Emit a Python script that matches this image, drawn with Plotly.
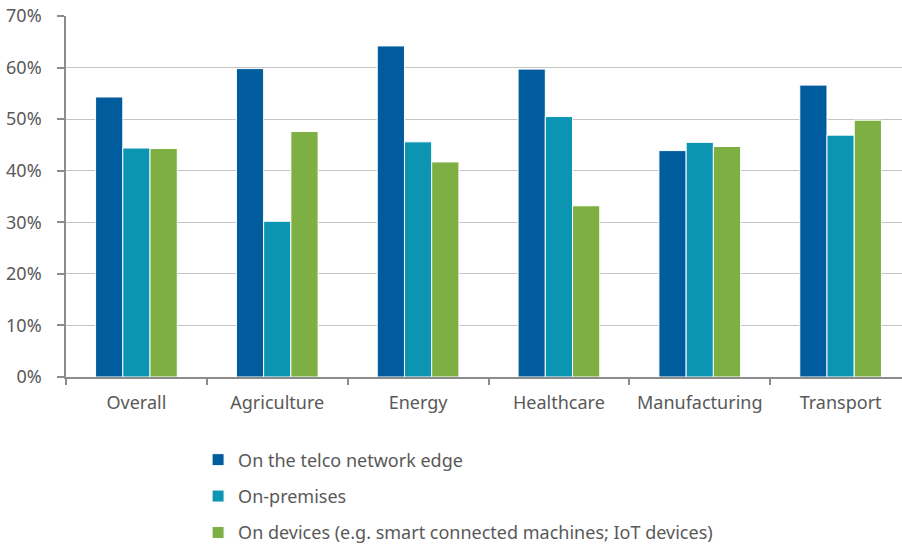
import plotly.graph_objects as go

categories = ["Overall", "Agriculture", "Energy", "Healthcare", "Manufacturing", "Transport"]
series_names = [
    "On the telco network edge",
    "On-premises",
    "On devices (e.g. smart connected machines; IoT devices)",
]
telco_edge = [0.543, 0.598, 0.642, 0.597, 0.439, 0.566]
on_premises = [0.444, 0.302, 0.456, 0.505, 0.455, 0.469]
on_devices = [0.443, 0.476, 0.417, 0.332, 0.447, 0.498]
colors = ["#005C9D", "#0B95B3", "#7DAF43"]
y_ticks = [0, 0.1, 0.2, 0.3, 0.4, 0.5, 0.6, 0.7]

font_family = "Noto Sans, Open Sans, sans-serif"
txt_color = "#595959"

fig = go.Figure()
for i, (name, vals) in enumerate(zip(series_names, [telco_edge, on_premises, on_devices])):
    fig.add_trace(go.Bar(
        x=categories, y=vals, name=name, legendgroup=f"g{i}",
        marker=dict(color=colors[i], line=dict(color="white", width=1)),
    ))

fig.update_layout(
    width=902, height=545,
    margin=dict(l=66, r=0, t=16, b=168),
    plot_bgcolor="white", paper_bgcolor="white",
    barmode="group", bargap=0.42, bargroupgap=0.0,
    font=dict(family=font_family, size=18, color=txt_color),
    showlegend=True,
    legend=dict(
        orientation="v", x=0.158, xanchor="left", xref="paper",
        yref="container", y=0.19, yanchor="top",
        font=dict(size=18, color=txt_color),
        tracegroupgap=10, itemwidth=30,
    ),
)
fig.update_xaxes(
    range=[-0.5, 5.436],
    showline=True, linecolor="#8C8C8C", linewidth=1.5,
    ticks="outside", tickson="boundaries", ticklen=6, tickcolor="#8C8C8C", tickwidth=1.5,
    showgrid=False, tickfont=dict(size=18, color=txt_color),
    ticklabelstandoff=9,
)
fig.update_yaxes(
    range=[0, 0.7], tickvals=y_ticks, tickformat=".0%",
    showline=True, linecolor="#8C8C8C", linewidth=1.5,
    ticks="outside", ticklen=7, tickcolor="#8C8C8C", tickwidth=1.5,
    showgrid=True, gridcolor="#C4C4C4", gridwidth=1,
    zeroline=False, tickfont=dict(size=18, color=txt_color),
    ticklabelstandoff=12,
)

fig.write_html("out.html")
